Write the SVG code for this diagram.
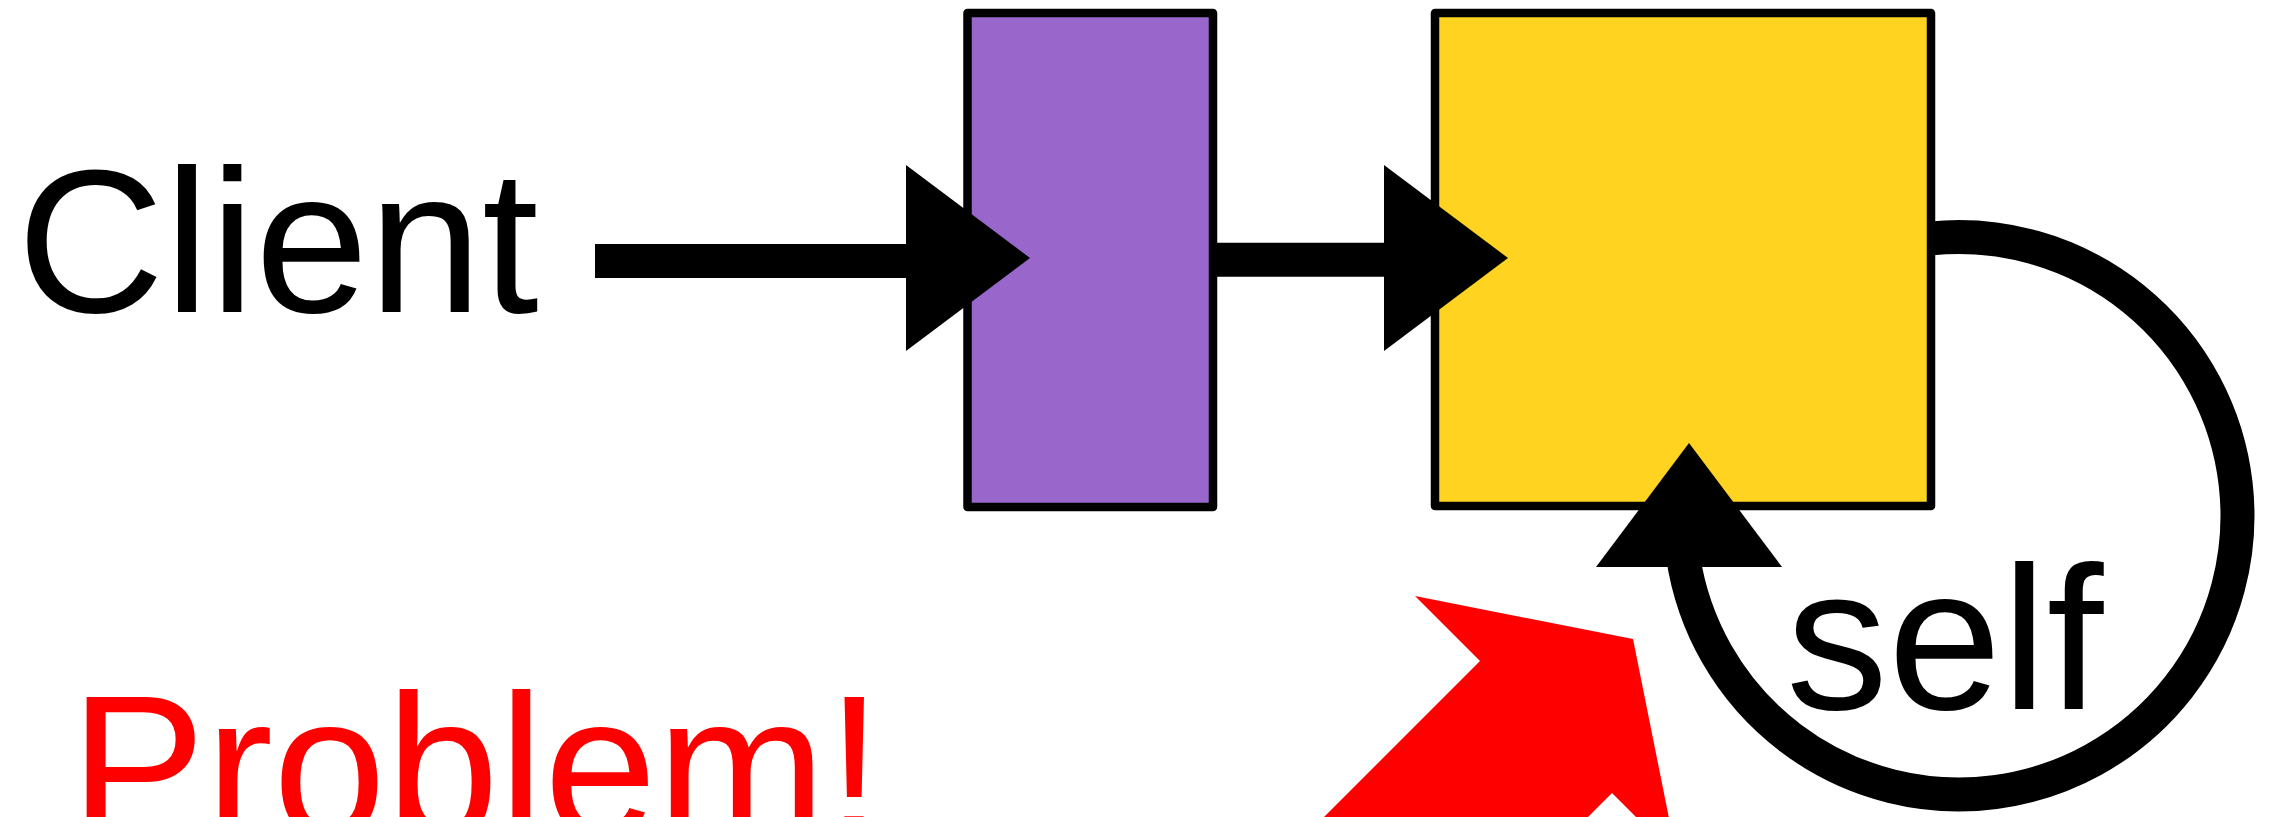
<svg xmlns="http://www.w3.org/2000/svg" width="2274" height="817" viewBox="0 0 2274 817">
  <style>
    .box { stroke: #000; stroke-width: 8.5; stroke-linejoin: round; }
    .label { font-family: "Liberation Sans", Arial, sans-serif; font-size: 204px; fill: #000; }
    .shaft { fill: none; stroke: #000; stroke-width: 34; }
    .head { fill: #000; }
  </style>
  <defs>
    <!-- arrowhead pointing right, tip at origin -->
    <polygon id="head-r" points="0,0 -124,-93 -124,93"/>
  </defs>
  <rect width="2274" height="817" fill="#fff"/>

  <g id="client-label">
    <text class="label" x="17" y="312">Client</text>
  </g>

  <g id="node-proxy">
    <rect class="box" x="967.5" y="13" width="245.5" height="494" fill="#9966CC"/>
  </g>

  <g id="node-server">
    <rect class="box" x="1435" y="13" width="496" height="493" fill="#FFD320"/>
  </g>

  <g id="connectors">
    <!-- Client to proxy -->
    <line class="shaft" x1="595" y1="261" x2="910" y2="261"/>
    <use href="#head-r" class="head" transform="translate(1030,258)"/>
    <!-- proxy to server -->
    <line class="shaft" x1="1217" y1="259.7" x2="1388" y2="259.7"/>
    <use href="#head-r" class="head" transform="translate(1508,258)"/>
    <!-- server calling itself: arc round to the right, ending under the head -->
    <path class="shaft" d="M 1931 238.4 A 278.7 278.7 0 1 1 1683 556"/>
    <polygon class="head" points="1689,443 1596,567 1782,567"/>
  </g>

  <g id="self-label">
    <text class="label" x="1786" y="709">self</text>
  </g>

  <g id="problem">
    <polygon fill="#FF0000" points="1633,639 1415,596 1480,661 1180,961 1312,1093 1612,793 1677,858"/>
    <text x="70" y="836" font-family="Liberation Sans, Arial, sans-serif" font-size="203" fill="#FF0000">Problem!</text>
  </g>
</svg>
